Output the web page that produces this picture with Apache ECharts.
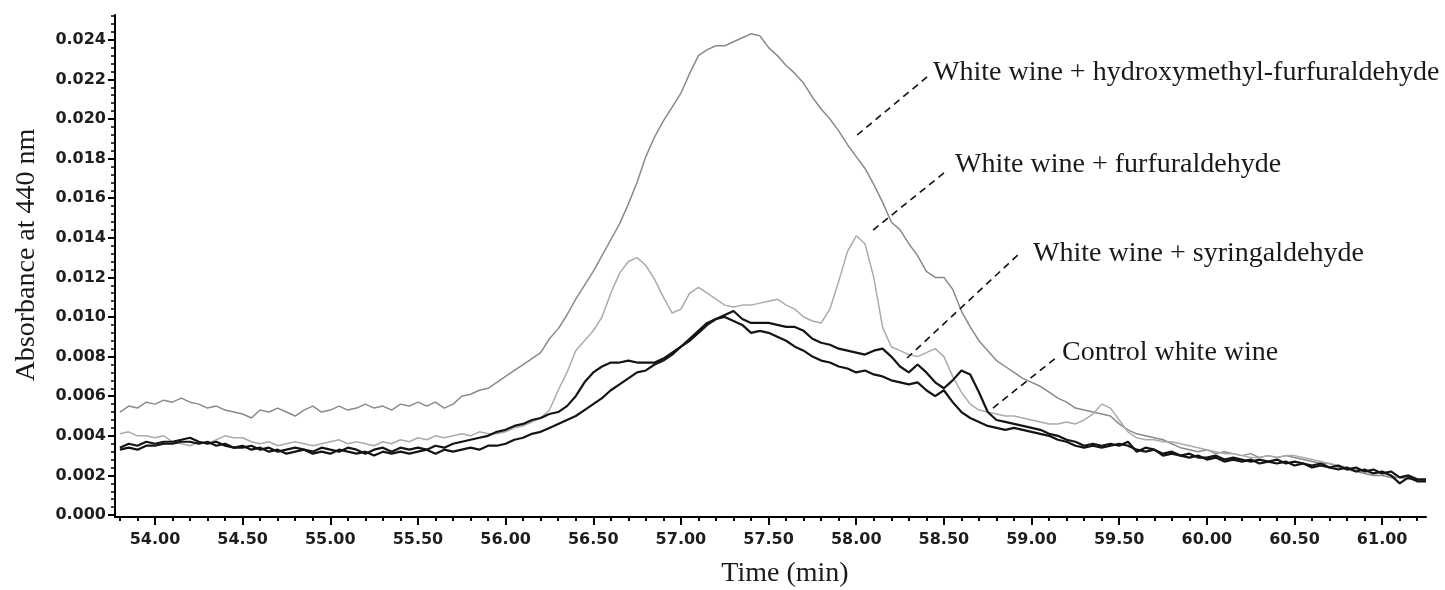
<!DOCTYPE html>
<html><head><meta charset="utf-8">
<script src="https://cdn.jsdelivr.net/npm/echarts@6/dist/echarts.min.js"></script>
<style>html,body{margin:0;padding:0;background:#fff}#c{width:1445px;height:590px}</style>
</head><body><div id="c"></div>
<script>
// Sampling grid of the chromatogram (minutes)
const T_START = 53.80, T_STEP = 0.05;

// Absorbance at 440 nm, every 0.05 min (53.80 ... 61.25)
const hmfAbs = [
 0.0052,0.0055,0.0054,0.0057,
 0.0056,0.0058,0.0057,0.0059,0.0057,0.0056,0.0054,0.0055,0.0053,0.0052,
 0.0051,0.0049,0.0053,0.0052,0.0054,0.0052,0.0050,0.0053,0.0055,0.0052,
 0.0053,0.0055,0.0053,0.0054,0.0056,0.0054,0.0055,0.0053,0.0056,0.0055,
 0.0057,0.0055,0.0057,0.0054,0.0056,0.0060,0.0061,0.0063,0.0064,0.0067,
 0.0070,0.0073,0.0076,0.0079,0.0082,0.0089,0.0094,0.0101,0.0109,0.0116,
 0.0123,0.0131,0.0139,0.0147,0.0157,0.0168,0.0181,0.0191,0.0199,0.0206,
 0.0213,0.0223,0.0232,0.0235,0.0237,0.0237,0.0239,0.0241,0.0243,0.0242,
 0.0236,0.0232,0.0227,0.0223,0.0218,0.0211,0.0205,0.0200,0.0194,0.0187,
 0.0181,0.0175,0.0167,0.0158,0.0148,0.0144,0.0137,0.0131,0.0123,0.0120,
 0.0120,0.0114,0.0103,0.0095,0.0088,0.0083,0.0078,0.0075,0.0072,0.0069,
 0.0067,0.0065,0.0062,0.0059,0.0057,0.0054,0.0053,0.0052,0.0051,0.0050,
 0.0046,0.0043,0.0041,0.0040,0.0039,0.0038,0.0036,0.0034,0.0033,0.0032,
 0.0033,0.0031,0.0032,0.0031,0.0030,0.0031,0.0029,0.0030,0.0029,0.0030,
 0.0029,0.0028,0.0027,0.0026,0.0026,0.0024,0.0023,0.0022,0.0021,0.0020,
 0.0020,0.0019,0.0019,0.0018,0.0018,0.0017
];
const furfuralAbs = [
 0.0041,0.0042,0.0040,0.0040,
 0.0039,0.0040,0.0037,0.0036,0.0035,0.0037,0.0036,0.0038,0.0040,0.0039,
 0.0039,0.0037,0.0036,0.0037,0.0035,0.0036,0.0037,0.0036,0.0035,0.0036,
 0.0037,0.0038,0.0036,0.0037,0.0036,0.0035,0.0037,0.0036,0.0038,0.0037,
 0.0039,0.0038,0.0040,0.0039,0.0040,0.0041,0.0040,0.0042,0.0041,0.0041,
 0.0042,0.0044,0.0045,0.0047,0.0049,0.0053,0.0063,0.0072,0.0083,0.0088,
 0.0093,0.0100,0.0112,0.0122,0.0128,0.0130,0.0126,0.0119,0.0110,0.0102,
 0.0104,0.0112,0.0115,0.0112,0.0109,0.0106,0.0105,0.0106,0.0106,0.0107,
 0.0108,0.0109,0.0106,0.0104,0.0100,0.0098,0.0097,0.0104,0.0118,0.0133,
 0.0141,0.0137,0.0120,0.0095,0.0085,0.0083,0.0081,0.0080,0.0082,0.0084,
 0.0080,0.0070,0.0062,0.0056,0.0053,0.0052,0.0051,0.0050,0.0050,0.0049,
 0.0048,0.0047,0.0046,0.0046,0.0047,0.0046,0.0048,0.0051,0.0056,0.0054,
 0.0048,0.0042,0.0039,0.0038,0.0038,0.0037,0.0037,0.0036,0.0035,0.0034,
 0.0033,0.0032,0.0031,0.0031,0.0030,0.0029,0.0029,0.0030,0.0029,0.0030,
 0.0030,0.0029,0.0028,0.0027,0.0026,0.0025,0.0024,0.0023,0.0022,0.0021,
 0.0021,0.0020,0.0019,0.0019,0.0018,0.0017
];
const syringaldehydeAbs = [
 0.0034,0.0036,0.0035,0.0037,
 0.0036,0.0037,0.0037,0.0038,0.0039,0.0037,0.0036,0.0037,0.0035,0.0034,
 0.0034,0.0035,0.0033,0.0034,0.0032,0.0033,0.0034,0.0033,0.0032,0.0034,
 0.0033,0.0032,0.0034,0.0033,0.0031,0.0033,0.0034,0.0032,0.0034,0.0033,
 0.0034,0.0033,0.0035,0.0034,0.0036,0.0037,0.0038,0.0039,0.0040,0.0042,
 0.0043,0.0045,0.0046,0.0048,0.0049,0.0051,0.0052,0.0055,0.0060,0.0067,
 0.0072,0.0075,0.0077,0.0077,0.0078,0.0077,0.0077,0.0077,0.0079,0.0082,
 0.0085,0.0088,0.0092,0.0096,0.0099,0.0101,0.0103,0.0099,0.0097,0.0097,
 0.0097,0.0096,0.0095,0.0095,0.0093,0.0089,0.0087,0.0086,0.0084,0.0083,
 0.0082,0.0081,0.0083,0.0084,0.0080,0.0075,0.0072,0.0076,0.0072,0.0067,
 0.0064,0.0068,0.0073,0.0071,0.0062,0.0052,0.0048,0.0047,0.0046,0.0045,
 0.0044,0.0043,0.0041,0.0040,0.0038,0.0037,0.0035,0.0036,0.0035,0.0036,
 0.0035,0.0037,0.0032,0.0034,0.0033,0.0031,0.0032,0.0030,0.0031,0.0029,
 0.0029,0.0030,0.0028,0.0029,0.0028,0.0027,0.0028,0.0027,0.0028,0.0026,
 0.0027,0.0026,0.0025,0.0026,0.0024,0.0025,0.0023,0.0024,0.0022,0.0023,
 0.0021,0.0022,0.0019,0.0020,0.0018,0.0018
];
const controlAbs = [
 0.0033,0.0034,0.0033,0.0035,
 0.0035,0.0036,0.0036,0.0037,0.0037,0.0036,0.0037,0.0035,0.0036,0.0034,
 0.0035,0.0033,0.0034,0.0032,0.0033,0.0031,0.0032,0.0033,0.0031,0.0032,
 0.0031,0.0033,0.0032,0.0031,0.0032,0.0030,0.0032,0.0031,0.0032,0.0031,
 0.0032,0.0033,0.0031,0.0033,0.0032,0.0033,0.0034,0.0033,0.0035,0.0035,
 0.0036,0.0038,0.0039,0.0041,0.0042,0.0044,0.0046,0.0048,0.0050,0.0053,
 0.0056,0.0059,0.0063,0.0066,0.0069,0.0072,0.0073,0.0076,0.0078,0.0081,
 0.0085,0.0089,0.0093,0.0097,0.0099,0.0100,0.0098,0.0096,0.0092,0.0093,
 0.0092,0.0090,0.0088,0.0085,0.0083,0.0080,0.0078,0.0077,0.0075,0.0074,
 0.0072,0.0073,0.0071,0.0070,0.0068,0.0067,0.0066,0.0067,0.0063,0.0060,
 0.0063,0.0057,0.0052,0.0049,0.0047,0.0045,0.0044,0.0043,0.0044,0.0043,
 0.0042,0.0041,0.0040,0.0038,0.0037,0.0035,0.0034,0.0035,0.0034,0.0035,
 0.0036,0.0035,0.0033,0.0032,0.0033,0.0030,0.0031,0.0030,0.0029,0.0030,
 0.0028,0.0029,0.0027,0.0028,0.0027,0.0028,0.0026,0.0027,0.0026,0.0027,
 0.0025,0.0026,0.0024,0.0025,0.0024,0.0023,0.0024,0.0022,0.0023,0.0021,
 0.0022,0.0020,0.0016,0.0019,0.0017,0.0017
];

// Tick labels
const xTickLabels = [54.00,54.50,55.00,55.50,56.00,56.50,57.00,57.50,58.00,58.50,59.00,59.50,60.00,60.50,61.00];
const yTickLabels = [0.000,0.002,0.004,0.006,0.008,0.010,0.012,0.014,0.016,0.018,0.020,0.022,0.024];

// Annotation labels and their dashed leaders (data coordinates)
const labelTexts = [
 'White wine + hydroxymethyl-furfuraldehyde',
 'White wine + furfuraldehyde',
 'White wine + syringaldehyde',
 'Control white wine'
];
const leaderFrom = [[58.005,0.01919],[58.096,0.01439],[58.290,0.00793],[58.780,0.00540]];
const leaderTo   = [[58.404,0.02212],[58.507,0.01732],[58.934,0.01323],[59.145,0.00798]];
const labelAt    = [[58.438,0.02232],[58.564,0.01768],[59.009,0.01318],[59.174,0.00818]];

const X_MIN = 53.772, X_MAX = 61.25, Y_MIN = -0.0001, Y_MAX = 0.02525;

function pairs(arr){
  return arr.map((v,i)=>[Math.round((T_START + i*T_STEP)*100)/100, v]);
}
const xMinor = []; for (let k=538;k<=612;k++) xMinor.push(k/10);
const yMinor = []; for (let k=0;k<=63;k++) yMinor.push(Math.round(k*4)/10000);

const chart = echarts.init(document.getElementById('c'), null, {renderer:'canvas'});
const tickFont = {fontFamily:'DejaVu Sans', fontSize:16, fontWeight:'bold', color:'#1e1e1e'};

const option = {
  animation:false,
  backgroundColor:'#ffffff',
  grid:{left:115,right:19,top:15,bottom:73,outerBoundsMode:'none',containLabel:false},
  xAxis:[
    {type:'value',min:X_MIN,max:X_MAX,
     axisLine:{show:true,onZero:false,lineStyle:{color:'#000',width:2}},
     axisTick:{show:true,inside:false,length:8,customValues:xTickLabels,lineStyle:{color:'#000',width:2}},
     axisLabel:{show:true,customValues:xTickLabels,margin:15,formatter:v=>v.toFixed(2),...tickFont},
     splitLine:{show:false}},
    {type:'value',min:X_MIN,max:X_MAX,position:'bottom',
     axisLine:{show:false,onZero:false},
     axisTick:{show:true,inside:false,length:4,customValues:xMinor,lineStyle:{color:'#000',width:2}},
     axisLabel:{show:false},splitLine:{show:false}}
  ],
  yAxis:[
    {type:'value',min:Y_MIN,max:Y_MAX,
     axisLine:{show:true,onZero:false,lineStyle:{color:'#000',width:2}},
     axisTick:{show:true,inside:false,length:7,customValues:yTickLabels,lineStyle:{color:'#000',width:2}},
     axisLabel:{show:true,customValues:yTickLabels,margin:9,formatter:v=>v.toFixed(3),...tickFont},
     splitLine:{show:false}},
    {type:'value',min:Y_MIN,max:Y_MAX,position:'left',
     axisLine:{show:false,onZero:false},
     axisTick:{show:true,inside:false,length:4,customValues:yMinor,lineStyle:{color:'#000',width:1.5}},
     axisLabel:{show:false},splitLine:{show:false}}
  ],
  series:[
    {name:'White wine + hydroxymethyl-furfuraldehyde',type:'line',data:pairs(hmfAbs),showSymbol:false,
     lineStyle:{color:'#8a8a8a',width:1.5},z:2,
     markLine:{silent:true,symbol:['none','none'],label:{show:false},
       lineStyle:{color:'#111',width:1.6,type:[7,5]},
       data:leaderFrom.map((f,i)=>[{coord:f},{coord:leaderTo[i]}])}},
    {name:'White wine + furfuraldehyde',type:'line',data:pairs(furfuralAbs),showSymbol:false,
     lineStyle:{color:'#ababab',width:1.5},z:2},
    {name:'White wine + syringaldehyde',type:'line',data:pairs(syringaldehydeAbs),showSymbol:false,
     lineStyle:{color:'#141414',width:2.2},z:3},
    {name:'Control white wine',type:'line',data:pairs(controlAbs),showSymbol:false,
     lineStyle:{color:'#141414',width:2.2},z:3}
  ],
  graphic:[
    {type:'text',x:27,y:255,rotation:Math.PI/2,
     style:{text:'Absorbance at 440 nm',font:'28px "Liberation Serif"',fill:'#1a1a1a',
            align:'center',verticalAlign:'middle',textAlign:'center',textVerticalAlign:'middle'}},
    {type:'text',x:785,y:574,
     style:{text:'Time (min)',font:'28px "Liberation Serif"',fill:'#1a1a1a',
            align:'center',verticalAlign:'middle',textAlign:'center',textVerticalAlign:'middle'}}
  ]
};
chart.setOption(option);

const labelGraphics = labelTexts.map((t,i)=>{
  const p = chart.convertToPixel({gridIndex:0}, labelAt[i]);
  return {type:'text',x:p[0],y:p[1],
    style:{text:t,font:'28px "Liberation Serif"',fill:'#1a1a1a',
           align:'left',verticalAlign:'middle',textAlign:'left',textVerticalAlign:'middle'}};
});
chart.setOption({graphic:option.graphic.concat(labelGraphics)});
</script>
</body></html>
